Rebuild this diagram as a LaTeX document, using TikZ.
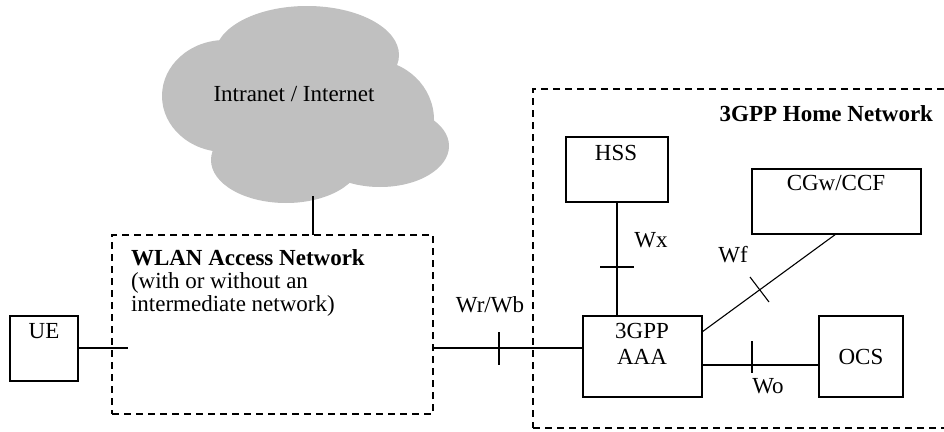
\documentclass[tikz,border=0pt]{standalone}
\usepackage{fontspec}
\setmainfont{Liberation Serif}
\begin{document}
\begin{tikzpicture}[x=1pt,y=-1pt,
  every node/.style={inner sep=0pt,outer sep=0pt},
  txt/.style={anchor=base,font=\fontsize{23}{23}\selectfont},
  btxt/.style={anchor=base,font=\fontsize{23}{23}\selectfont\bfseries},
  boxshape/.style={draw,line width=1.1pt,rectangle},
  netbox/.style={draw,line width=1.5pt,dash pattern=on 7pt off 5pt,rectangle},
  link/.style={line width=1.1pt},
  tick/.style={line width=1.1pt}]
\definecolor{cloudgray}{RGB}{192,192,192}
\clip (0,0) rectangle (944,431);
\fill[white] (0,0) rectangle (944,431);
% cloud
\fill[cloudgray] (307,55) ellipse [x radius=92pt, y radius=49pt];
\fill[cloudgray] (225,96) ellipse [x radius=63pt, y radius=56pt];
\fill[cloudgray] (372,120) ellipse [x radius=62pt, y radius=60pt];
\fill[cloudgray] (380,146) ellipse [x radius=69pt, y radius=41pt];
\fill[cloudgray] (286,160) ellipse [x radius=75pt, y radius=43pt];
\fill[cloudgray] (300,112) ellipse [x radius=105pt, y radius=62pt];
\node[txt] (cloudtxt) at (294,101) {Intranet / Internet};
\coordinate (cloud) at (313,196);
% network boxes
\node[netbox,minimum width=321pt,minimum height=179pt,anchor=north west] (wlan) at (112,235) {};
\node[netbox,minimum width=420pt,minimum height=339pt,anchor=north west] (home) at (533,89) {};
\node[btxt,anchor=base west] (wlant1) at (131,265) {WLAN Access Network};
\node[txt,anchor=base west] (wlant2) at (131,288) {(with or without an};
\node[txt,anchor=base west] (wlant3) at (131,311) {intermediate network)};
\node[btxt,anchor=base east] (homet) at (933,121) {3GPP Home Network};
% boxes
\node[boxshape,minimum width=68pt,minimum height=65pt,anchor=north west] (ue) at (10,316) {};
\node[txt] (uet) at (44,338) {UE};
\node[boxshape,minimum width=102pt,minimum height=65pt,anchor=north west] (hss) at (566,137) {};
\node[txt] (hsst) at (616,160) {HSS};
\node[boxshape,minimum width=169pt,minimum height=65pt,anchor=north west] (cgw) at (752,169) {};
\node[txt] (cgwt) at (836,190) {CGw/CCF};
\node[boxshape,minimum width=119pt,minimum height=81pt,anchor=north west] (aaa) at (583,316) {};
\node[txt] (aaat1) at (642,338) {3GPP};
\node[txt] (aaat2) at (642,364) {AAA};
\node[boxshape,minimum width=84pt,minimum height=81pt,anchor=north west] (ocs) at (819,316) {};
\node[txt] (ocst) at (861,364) {OCS};
% connectors
\draw[link] (cloud) -- (wlan.north -| cloud);
\coordinate (uein) at (128,348);
\draw[link] (ue.east |- uein) -- (uein);
\coordinate (wrb) at (433,348);
\draw[link] (wlan.east |- wrb) -- (aaa.west |- wrb);
\draw[tick] (499,332) -- (499,365);
\node[txt] (wrbt) at (490,312) {Wr/Wb};
\coordinate (wxc) at (617,250);
\draw[link] (hss.south -| wxc) -- (aaa.north -| wxc);
\draw[tick] (600,267) -- (634,267);
\node[txt] (wxt) at (651,247) {Wx};
\coordinate (wfa) at (836,234);
\coordinate (wfb) at (702,332);
\draw[link] (cgw.south -| wfa) -- (aaa.east |- wfb);
\draw[tick] (750,277) -- (769,302);
\node[txt] (wft) at (733,262) {Wf};
\coordinate (woc) at (760,365);
\draw[link] (aaa.east |- woc) -- (ocs.west |- woc);
\draw[tick] (752,341) -- (752,373);
\node[txt] (wot) at (768,393) {Wo};
\end{tikzpicture}
\end{document}
